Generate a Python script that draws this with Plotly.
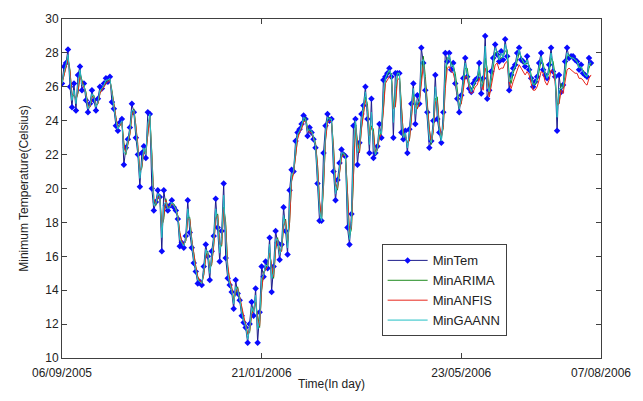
import plotly.graph_objects as go

tick_vals = [0, 100, 200, 270]
tick_labels = ["06/09/2005", "21/01/2006", "23/05/2006", "07/08/2006"]

min_tem = [
    26.2, 27.2, 27.4, 28.2, 26.0, 24.8, 26.2, 24.6, 26.7, 27.2,
    25.8, 26.2, 25.2, 24.5, 25.0, 25.8, 25.2, 24.6, 25.3, 26.0,
    25.9, 26.2, 26.5, 26.3, 26.6, 25.1, 24.7, 23.7, 23.4, 23.9,
    24.1, 21.4, 22.4, 22.9, 23.6, 25.0, 24.5, 23.0, 22.0, 20.1,
    22.1, 22.5, 21.8, 24.5, 24.4, 20.0, 18.7, 19.2, 19.9, 19.5,
    16.3, 19.9, 19.0, 18.7, 19.0, 19.3, 18.9, 18.7, 18.2, 16.6,
    16.8, 16.5, 17.2, 19.3, 17.4, 16.5, 15.6, 15.1, 14.4, 14.5,
    14.3, 15.4, 16.7, 16.0, 14.6, 16.3, 17.2, 19.4, 17.7, 15.7,
    17.5, 20.3, 15.9, 14.7, 14.3, 13.9, 12.9, 14.6, 13.8, 13.4,
    12.5, 12.1, 11.8, 10.9, 12.0, 13.3, 12.5, 14.1, 10.9, 12.7,
    15.4, 14.8, 15.7, 15.3, 17.1, 13.9, 15.4, 17.5, 16.8, 15.8,
    16.7, 18.9, 17.5, 16.1, 19.9, 21.1, 21.0, 22.8, 23.3, 23.5,
    23.8, 24.3, 24.1, 23.1, 23.6, 23.3, 22.9, 22.4, 20.3, 18.1,
    18.1, 22.1, 23.7, 24.4, 24.0, 24.1, 21.0, 19.3, 20.5, 21.5,
    22.3, 22.0, 21.9, 17.7, 16.7, 18.5, 23.7, 24.1, 21.4, 22.7,
    24.4, 24.9, 26.0, 24.1, 22.1, 25.3, 21.8, 22.1, 22.5, 23.8,
    23.0, 26.4, 26.6, 26.8, 27.1, 26.6, 23.0, 26.8, 26.8, 26.8,
    23.3, 22.9, 23.4, 22.1, 23.5, 25.0, 26.2, 23.8, 25.5, 25.0,
    28.3, 27.4, 25.8, 24.5, 22.4, 22.8, 24.0, 26.7, 24.1, 23.3,
    22.7, 24.5, 28.0, 27.5, 28.0, 27.0, 27.4, 26.2, 25.3, 24.5,
    25.5, 26.5, 27.7, 26.6, 25.9, 25.7, 26.2, 26.4, 26.5, 27.4,
    25.6, 26.5, 29.0, 25.3, 25.8, 26.9, 27.7, 28.5, 27.9, 27.5,
    28.1, 27.6, 28.8, 27.8, 25.8, 26.7, 27.1, 27.3, 28.0, 28.3,
    27.6, 27.5, 27.2, 27.8, 27.0, 26.5, 26.0, 26.3, 26.6, 27.4,
    28.0, 27.0, 26.7, 26.5, 27.3, 28.3, 26.9, 26.6, 23.4, 26.7,
    25.7, 26.1, 27.5, 28.3, 27.7, 27.8, 27.8, 27.6, 27.5, 27.0,
    27.3, 26.8, 26.7, 26.6, 27.7, 27.4,
]

min_arima = [
    26.2, 26.7, 27.2, 27.7, 27.0, 25.4, 25.5, 25.3, 25.6, 26.8,
    26.4, 26.0, 25.7, 24.9, 24.8, 25.4, 25.5, 24.9, 25.0, 25.6,
    25.9, 26.0, 26.3, 26.4, 26.4, 25.8, 24.9, 24.2, 23.6, 23.7,
    23.9, 22.7, 22.0, 22.6, 23.2, 24.3, 24.7, 23.7, 22.5, 21.0,
    21.2, 22.3, 22.1, 23.2, 24.3, 22.1, 19.3, 19.0, 19.5, 19.6,
    17.8, 18.2, 19.4, 18.9, 18.9, 19.1, 19.1, 18.8, 18.4, 17.4,
    16.8, 16.7, 16.9, 18.3, 18.3, 17.0, 16.1, 15.4, 14.8, 14.5,
    14.4, 14.9, 16.0, 16.3, 15.3, 15.5, 16.7, 18.3, 18.5, 16.7,
    16.6, 18.9, 18.0, 15.4, 14.5, 14.1, 13.4, 13.8, 14.2, 13.6,
    13.0, 12.3, 12.0, 11.4, 11.5, 12.6, 12.9, 13.3, 12.5, 11.8,
    14.0, 15.1, 15.2, 15.5, 16.2, 15.5, 14.7, 16.4, 17.1, 16.3,
    16.3, 17.8, 18.2, 16.8, 18.0, 20.5, 21.0, 21.9, 23.0, 23.4,
    23.6, 24.0, 24.2, 23.6, 23.4, 23.4, 23.1, 22.7, 21.4, 19.2,
    18.1, 20.1, 22.9, 24.0, 24.2, 24.0, 22.5, 20.2, 19.9, 21.0,
    21.9, 22.1, 22.0, 19.8, 17.2, 17.6, 21.1, 23.9, 22.8, 22.1,
    23.6, 24.6, 25.4, 25.0, 23.1, 23.7, 23.5, 22.0, 22.3, 23.1,
    23.4, 24.7, 26.5, 26.7, 26.9, 26.8, 24.8, 24.9, 26.8, 26.8,
    25.0, 23.1, 23.1, 22.7, 22.8, 24.2, 25.6, 25.0, 24.7, 25.2,
    26.6, 27.8, 26.6, 25.1, 23.5, 22.6, 23.4, 25.3, 25.4, 23.7,
    23.0, 23.6, 26.2, 27.7, 27.7, 27.4, 27.2, 26.8, 25.7, 24.9,
    25.0, 26.0, 27.1, 27.1, 26.2, 25.8, 25.9, 26.3, 26.4, 26.9,
    26.4, 26.0, 27.7, 27.1, 25.5, 26.3, 27.2, 28.0, 28.1, 27.6,
    27.7, 27.8, 28.1, 28.2, 26.7, 26.2, 26.8, 27.1, 27.5, 28.0,
    27.8, 27.4, 27.3, 27.4, 27.3, 26.7, 26.2, 26.1, 26.4, 26.9,
    27.6, 27.4, 26.8, 26.6, 26.8, 27.7, 27.5, 26.7, 25.0, 25.0,
    26.2, 25.9, 26.7, 27.8, 27.9, 27.7, 27.7, 27.6, 27.5, 27.2,
    27.1, 27.0, 26.7, 26.6, 27.1, 27.4,
]

min_anfis = [
    26.2, 26.7, 27.1, 27.6, 26.9, 25.5, 25.6, 25.2, 25.7, 26.6,
    26.3, 26.0, 25.6, 24.9, 24.8, 25.4, 25.4, 24.9, 25.0, 25.6,
    25.8, 26.0, 26.2, 26.3, 26.4, 25.7, 24.9, 24.2, 23.6, 23.7,
    23.9, 22.6, 22.1, 22.6, 23.2, 24.3, 24.6, 23.7, 22.6, 21.0,
    21.3, 22.2, 22.0, 23.2, 24.2, 22.0, 19.4, 19.1, 19.5, 19.5,
    17.7, 18.4, 19.3, 18.9, 18.9, 19.1, 19.0, 18.8, 18.4, 17.4,
    16.9, 16.7, 16.9, 18.2, 18.2, 17.0, 16.1, 15.4, 14.8, 14.6,
    14.4, 14.9, 15.9, 16.2, 15.3, 15.6, 16.6, 18.2, 18.4, 16.7,
    16.7, 18.8, 17.8, 15.5, 14.6, 14.2, 13.4, 13.9, 14.1, 13.6,
    13.0, 12.4, 12.0, 11.4, 11.6, 12.6, 12.8, 13.3, 12.3, 11.9,
    14.0, 15.0, 15.2, 15.4, 16.2, 15.4, 14.8, 16.4, 17.0, 16.3,
    16.3, 17.8, 18.1, 16.9, 18.0, 20.4, 20.9, 21.9, 22.9, 23.3,
    23.5, 23.9, 24.0, 23.5, 23.3, 23.3, 23.0, 22.6, 21.4, 19.3,
    18.3, 20.1, 22.8, 23.9, 24.0, 23.9, 22.4, 20.3, 20.0, 21.0,
    21.8, 22.0, 21.9, 19.8, 17.4, 17.7, 21.0, 23.7, 22.7, 22.1,
    23.5, 24.4, 25.2, 24.8, 23.1, 23.6, 23.3, 22.1, 22.3, 23.0,
    23.2, 24.6, 26.2, 26.4, 26.6, 26.5, 24.7, 24.8, 26.4, 26.5,
    24.9, 23.2, 23.1, 22.7, 22.8, 24.1, 25.4, 24.8, 24.7, 25.0,
    26.4, 27.3, 26.3, 25.0, 23.5, 22.7, 23.4, 25.1, 25.2, 23.8,
    23.1, 23.6, 25.9, 27.1, 27.2, 26.9, 26.8, 26.3, 25.5, 24.8,
    25.0, 25.8, 26.6, 26.6, 25.9, 25.6, 25.7, 26.0, 26.1, 26.5,
    26.1, 25.8, 27.1, 26.7, 25.4, 26.0, 26.7, 27.3, 27.4, 27.0,
    27.1, 27.1, 27.4, 27.5, 26.3, 25.9, 26.3, 26.6, 26.9, 27.3,
    27.1, 26.9, 26.7, 26.9, 26.7, 26.2, 25.8, 25.8, 26.0, 26.4,
    26.9, 26.8, 26.3, 26.1, 26.4, 27.0, 26.9, 26.3, 24.9, 25.0,
    25.8, 25.6, 26.2, 27.0, 27.1, 27.0, 26.9, 26.8, 26.8, 26.5,
    26.5, 26.4, 26.2, 26.1, 26.5, 26.7,
]

min_gaann = [
    26.2, 26.9, 27.3, 27.9, 26.5, 25.2, 25.8, 25.0, 26.2, 27.0,
    26.1, 26.1, 25.5, 24.7, 24.9, 25.6, 25.4, 24.8, 25.1, 25.8,
    25.9, 26.1, 26.4, 26.4, 26.5, 25.5, 24.8, 24.0, 23.5, 23.8,
    24.0, 22.1, 22.1, 22.8, 23.4, 24.6, 24.6, 23.4, 22.3, 20.6,
    21.6, 22.4, 22.0, 23.8, 24.4, 21.1, 19.0, 19.1, 19.7, 19.6,
    17.1, 19.0, 19.2, 18.8, 18.9, 19.2, 19.0, 18.8, 18.3, 17.0,
    16.8, 16.6, 17.0, 18.8, 17.9, 16.7, 15.8, 15.2, 14.6, 14.5,
    14.4, 15.1, 16.4, 16.2, 15.0, 15.9, 17.0, 18.8, 18.1, 16.2,
    17.1, 19.6, 17.0, 15.0, 14.4, 14.0, 13.2, 14.2, 14.0, 13.5,
    12.7, 12.2, 11.9, 11.1, 11.7, 13.0, 12.7, 13.7, 11.7, 12.2,
    14.7, 14.9, 15.5, 15.4, 16.7, 14.7, 15.0, 17.0, 17.0, 16.1,
    16.5, 18.4, 17.8, 16.5, 19.0, 20.8, 21.0, 22.4, 23.2, 23.4,
    23.7, 24.2, 24.1, 23.4, 23.5, 23.4, 23.0, 22.5, 20.8, 18.7,
    18.1, 21.1, 23.3, 24.2, 24.1, 24.1, 21.8, 19.7, 20.2, 21.3,
    22.1, 22.1, 21.9, 18.8, 17.0, 18.0, 22.4, 24.0, 22.1, 22.4,
    24.0, 24.8, 25.7, 24.6, 22.6, 24.5, 22.7, 22.0, 22.4, 23.5,
    23.2, 25.6, 26.5, 26.8, 27.0, 26.7, 23.9, 25.9, 26.8, 26.8,
    24.2, 23.0, 23.3, 22.4, 23.2, 24.6, 25.9, 24.4, 25.1, 25.1,
    27.5, 27.6, 26.2, 24.8, 22.9, 22.7, 23.7, 26.0, 24.7, 23.5,
    22.8, 24.0, 27.1, 27.6, 27.9, 27.2, 27.3, 26.5, 25.5, 24.7,
    25.3, 26.2, 27.4, 26.8, 26.1, 25.7, 26.1, 26.3, 26.5, 27.2,
    26.0, 26.3, 28.4, 26.2, 25.7, 26.6, 27.5, 28.3, 28.0, 27.6,
    28.0, 27.7, 28.5, 28.0, 26.3, 26.5, 27.0, 27.2, 27.8, 28.2,
    27.7, 27.5, 27.3, 27.6, 27.2, 26.6, 26.1, 26.2, 26.5, 27.2,
    27.8, 27.2, 26.8, 26.5, 27.1, 28.0, 27.2, 26.7, 24.2, 25.9,
    25.9, 26.0, 27.1, 28.0, 27.8, 27.7, 27.7, 27.6, 27.5, 27.1,
    27.2, 26.9, 26.7, 26.6, 27.4, 27.4,
]

days = list(range(len(min_tem)))

fig = go.Figure()
fig.add_trace(go.Scatter(
    x=days, y=min_tem, name="MinTem", mode="lines+markers",
    line=dict(color="#1c1c8a", width=1),
    marker=dict(color="#0a0aff", size=5, symbol="diamond"),
))
fig.add_trace(go.Scatter(
    x=days, y=min_arima, name="MinARIMA", mode="lines",
    line=dict(color="#1e8a1e", width=1),
))
fig.add_trace(go.Scatter(
    x=days, y=min_anfis, name="MinANFIS", mode="lines",
    line=dict(color="#e8251c", width=1),
))
fig.add_trace(go.Scatter(
    x=days, y=min_gaann, name="MinGAANN", mode="lines",
    line=dict(color="#22bfc4", width=1),
))

axis_common = dict(
    showline=True, linecolor="#404040", linewidth=1, mirror="ticks",
    ticks="inside", ticklen=5, tickcolor="#404040",
    showgrid=False, zeroline=False,
    tickfont=dict(family="Liberation Sans, Arial, sans-serif", size=12, color="#222222"),
)

fig.update_layout(
    width=643, height=401,
    margin=dict(l=62, r=40, t=14, b=39),
    paper_bgcolor="white", plot_bgcolor="white",
    font=dict(family="Liberation Sans, Arial, sans-serif", size=12, color="#222222"),
    xaxis=dict(
        range=[0, 270], tickmode="array", tickvals=tick_vals, ticktext=tick_labels,
        title=dict(text="Time(In day)", standoff=0, font=dict(size=12)),
        ticklabelstandoff=4,
        **axis_common,
    ),
    yaxis=dict(
        range=[10, 30], tickmode="array", tickvals=list(range(10, 31, 2)),
        title=dict(text="Minimum Temperature(Celsius)", standoff=14, font=dict(size=12)),
        **axis_common,
    ),
    legend=dict(
        x=0.593, y=0.335, xanchor="left", yanchor="top",
        bgcolor="white", bordercolor="#404040", borderwidth=1,
        font=dict(size=13), tracegroupgap=0, itemwidth=40,
    ),
    showlegend=True,
)

fig.write_html("out.html")
